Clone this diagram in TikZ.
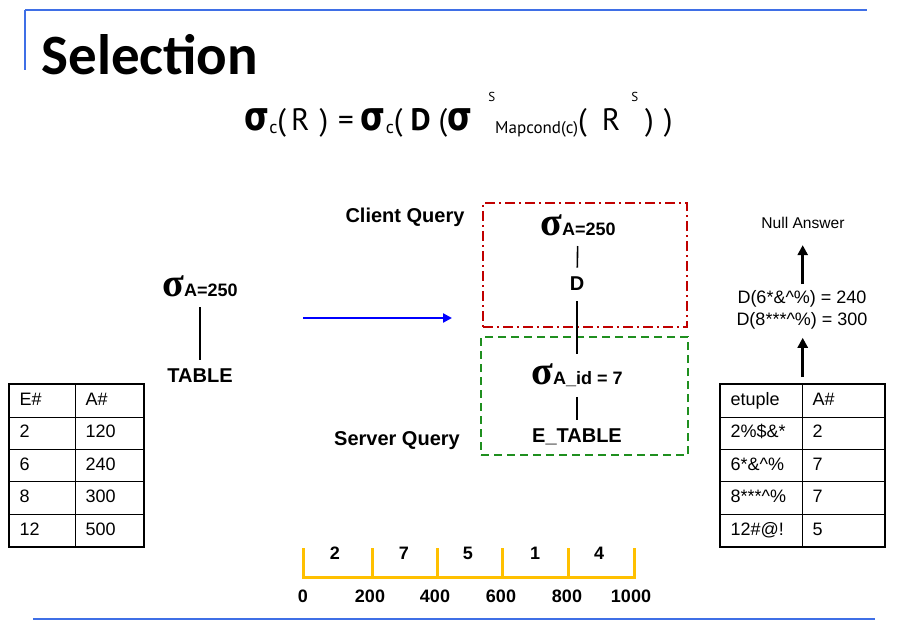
\documentclass[tikz,border=0pt]{standalone}
\usepackage{fontspec}
\setmainfont{Liberation Sans}
\newfontfamily\titlefont{Carlito}
\newfontfamily\formfont{PT Sans}
\newfontfamily\formsig{DejaVu Sans}
\newfontfamily\sigfont{Liberation Serif}
\usetikzlibrary{arrows.meta, positioning, matrix}
\definecolor{ruleblue}{HTML}{3F6FE6}
\definecolor{clientred}{HTML}{C00000}
\definecolor{servergreen}{HTML}{1F8F1F}
\definecolor{scalegold}{HTML}{FFC000}
\definecolor{flowblue}{HTML}{0000FF}
\newcommand{\selsig}{{\sigfont\bfseries\fontsize{20}{20}\selectfont σ}}
\newcommand{\bigsig}{\scalebox{0.8}[1]{\formsig\bfseries\fontsize{20}{20}\selectfont σ}}
\newcommand{\fsub}[2]{\raisebox{-1.2pt}{\fontsize{#1}{#1}\selectfont #2}}
\newcommand{\fsup}[1]{\raisebox{14.5pt}{\fontsize{6.5}{6.5}\selectfont #1}}

\begin{document}
\begin{tikzpicture}[
    x=0.5pt, y=-0.5pt,
    >={Triangle[length=5pt, width=5pt]},
    querylabel/.style={font=\bfseries\fontsize{10}{12}\selectfont},
    opnode/.style={inner sep=0pt, font=\bfseries\fontsize{9}{11}\selectfont},
    link/.style={line width=0.8pt, shorten <=5pt, shorten >=4.5pt},
    uparrow/.style={->, line width=1.3pt},
    rule/.style={draw=ruleblue, line width=1pt},
    clientbox/.style={draw=clientred, line width=0.8pt, dash pattern=on 5pt off 2pt on 1pt off 2pt,
        minimum width=102pt, minimum height=62pt, inner sep=0pt},
    serverbox/.style={draw=servergreen, line width=0.8pt, dash pattern=on 4pt off 2.5pt,
        minimum width=103.5pt, minimum height=59pt, inner sep=0pt},
    datatable/.style={matrix of nodes, draw, line width=1.2pt, inner sep=0pt,
        row sep=-0.5pt, column sep=-0.5pt,
        nodes={draw, line width=0.5pt, anchor=center, minimum height=16.2pt,
            text height=6.5pt, text depth=2pt, inner xsep=5pt, inner ysep=0pt,
            align=left, font=\fontsize{9}{11}\selectfont}},
    scaleline/.style={draw=scalegold, line width=1.5pt},
    scalenum/.style={font=\bfseries\fontsize{9}{11}\selectfont, inner sep=0pt},
]
    \useasboundingbox (0,0) rectangle (900,631);

    % frame
    \draw[rule] (25,10) -- (867,10);
    \draw[rule, line width=0.6pt] (25,10) -- (25,70);
    \draw[rule] (33,619) -- (875,619);

    % title and formula
    \node[anchor=base west, inner sep=0pt, font=\titlefont\bfseries\fontsize{28.5}{30}\selectfont] (title) at (41,75) {Selection};
    \node[anchor=base west, inner sep=0pt, font=\formfont\fontsize{15.5}{17}\selectfont] (formula) at (244,131)
        {\bigsig\fsub{9}{c}(\hspace{2.5pt}R\hspace{5pt})\hspace{5pt}=\hspace{3.5pt}\bigsig\fsub{9}{c}(\hspace{4pt}\textbf{D}\hspace{4pt}(\bigsig\hspace{8pt}\fsup{S}\fsub{8.5}{Mapcond(c)}(\hspace{7.5pt}R\hspace{5.5pt}\fsup{S}\hspace{3.5pt})\hspace{5pt})};

    % plain query
    \node[opnode] (lsig) at (200,286) {\selsig A=250};
    \node[opnode, font=\bfseries\fontsize{10}{12}\selectfont] (ltab) at (200,376) {TABLE};
    \draw[link] (lsig) -- (ltab);

    \matrix (plain) [datatable, anchor=north west, column 1/.style={nodes={text width=23pt}},
        column 2/.style={nodes={text width=24pt}}] at (8,383) {
        E\# & A\# \\
        2 & 120 \\
        6 & 240 \\
        8 & 300 \\
        12 & 500 \\
    };

    \coordinate (flowstart) at (303,318);
    \coordinate (flowend) at (452,318);
    \draw[->, draw=flowblue, line width=1.2pt, >={Triangle[length=4.5pt, width=4.5pt]}] (flowstart) -- (flowend);

    % split query
    \node[clientbox] (client) at (585,265) {};
    \node[serverbox] (server) at (584.5,396) {};
    \node[querylabel] (clientlbl) at (405,217) {Client Query};
    \node[querylabel] (serverlbl) at (397,441) {Server Query};

    \node[opnode] (csig) at (578,225) {\selsig A=250};
    \node[opnode, font=\bfseries\fontsize{10}{12}\selectfont] (cD) at (577,284) {D};
    \node[opnode] (ssig) at (577,375) {\selsig A\_id = 7};
    \node[opnode, font=\bfseries\fontsize{10}{12}\selectfont] (etable) at (577,437) {E\_TABLE};
    \draw[link] (csig) -- (cD);
    \draw[link] (cD) -- (ssig);
    \draw[link] (ssig) -- (etable);

    % encrypted side
    \matrix (enc) [datatable, anchor=north west, column 1/.style={nodes={text width=31pt}},
        column 2/.style={nodes={text width=31pt}}] at (719,383) {
        etuple & A\# \\
        2\%\$\&* & 2 \\
        6*\&\textasciicircum\% & 7 \\
        8***\textasciicircum\% & 7 \\
        12\#@! & 5 \\
    };
    \node[inner sep=0pt, align=center, font=\fontsize{9}{11}\selectfont] (dval) at (802,310)
        {D(6*\&\textasciicircum\%) = 240\\D(8***\textasciicircum\%) = 300};
    \node[inner sep=0pt, font=\fontsize{7.8}{9}\selectfont] (null) at (803,223) {Null Answer};
    \draw[uparrow, shorten <=3pt, shorten >=4pt] (enc.north) -- (dval.south -| enc.north);
    \draw[uparrow, shorten <=3pt, shorten >=8pt] (dval.north -| enc.north) -- (null.south -| enc.north);

    % value scale
    \draw[scaleline] (303,548) -- (303,577) -- (634,577) -- (634,548);
    \foreach \x in {372,437,502,568}
        \draw[scaleline] (\x,548) -- (\x,577);
    \foreach \x/\v [count=\i] in {335/2, 404/7, 468/5, 535/1, 599/4}
        \node[scalenum] (seg\i) at (\x,553) {\v};
    \foreach \x/\v [count=\i] in {303/0, 370/200, 435/400, 501/600, 567/800, 631/1000}
        \node[scalenum] (tick\i) at (\x,596) {\v};
\end{tikzpicture}
\end{document}
